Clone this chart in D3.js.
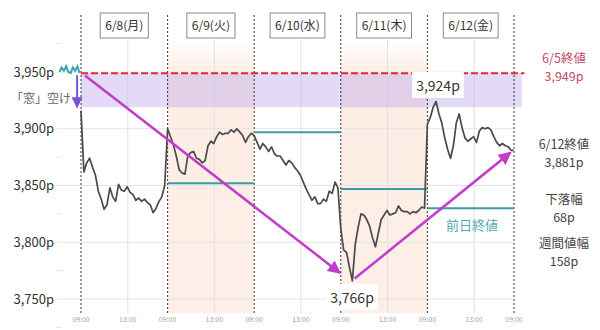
<!DOCTYPE html>
<html>
<head>
<meta charset="utf-8">
<script src="https://cdn.jsdelivr.net/npm/d3@7"></script>
<style>
  body { margin: 0; background: #fff; }
  svg { display: block; font-family: "Noto Sans CJK JP", "Noto Sans", sans-serif; }
</style>
</head>
<body>
<svg id="chart" width="600" height="330"></svg>
<script>
// days and labels
const dayLabels = ['6/8(月)', '6/9(火)', '6/10(水)', '6/11(木)', '6/12(金)'];
const timeTicks = [['09:00', 0], ['13:00', 0.54]];
const yTicks = [3750, 3800, 3850, 3900, 3950];

// intraday prices, evenly spaced through each session
const day1 = [3916, 3862, 3870, 3874, 3866, 3859, 3845, 3838, 3829, 3833, 3848, 3840, 3836, 3851, 3846,
              3845, 3849, 3844, 3842, 3837, 3839, 3836, 3838, 3835, 3833, 3826, 3830, 3836, 3840, 3850];
const day2 = [3900, 3893, 3886, 3876, 3864, 3861, 3860, 3876, 3879, 3880, 3874, 3873, 3870, 3872, 3885,
              3889, 3887, 3893, 3897, 3895, 3896, 3896, 3899, 3897, 3900, 3897, 3894, 3888, 3893, 3896];
const day3 = [3894, 3888, 3882, 3887, 3884, 3880, 3884, 3878, 3876, 3876, 3872, 3868, 3872, 3870, 3866,
              3863, 3859, 3853, 3847, 3842, 3837, 3840, 3834, 3834, 3838, 3836, 3845, 3843, 3853, 3848];
const day4 = [3812, 3793, 3791, 3778, 3766, 3798, 3813, 3825, 3824, 3820, 3814, 3804, 3796, 3808, 3820,
              3824, 3828, 3824, 3825, 3826, 3832, 3828, 3827, 3827, 3825, 3827, 3826, 3828, 3831, 3830];
const day5 = [3904, 3910, 3919, 3924, 3913, 3905, 3892, 3882, 3874, 3885, 3905, 3913, 3901, 3892, 3889,
              3891, 3893, 3888, 3898, 3901, 3900, 3901, 3899, 3893, 3888, 3885, 3887, 3885, 3884, 3881];
const preDay = [3950, 3954, 3951, 3955, 3950, 3949, 3954, 3951, 3955, 3949];
const prevCloses = [null, 3852, 3897, 3847, 3830];

const prevWeekClose = 3949;
const gapBottom = 3919;
const weekHigh = 3924, weekLow = 3766;

const svg = d3.select('#chart');
const x = d3.scaleLinear().domain([0, 5]).range([81, 514]);
const y = d3.scaleLinear().domain([3750, 3950]).range([299, 72]);
const plotTop = 40, plotBottom = 313;

const defs = svg.append('defs');
const grad = defs.append('linearGradient').attr('id', 'shade').attr('x1', 0).attr('x2', 0).attr('y1', 0).attr('y2', 1);
grad.append('stop').attr('offset', '0%').attr('stop-color', '#fdeee6').attr('stop-opacity', 0);
grad.append('stop').attr('offset', '12%').attr('stop-color', '#fdece3').attr('stop-opacity', 1);
grad.append('stop').attr('offset', '100%').attr('stop-color', '#fdefe8').attr('stop-opacity', 1);

function marker(id, color, size) {
  defs.append('marker').attr('id', id)
    .attr('viewBox', '0 0 10 10').attr('refX', 9).attr('refY', 5)
    .attr('markerWidth', size).attr('markerHeight', size).attr('markerUnits', 'userSpaceOnUse')
    .attr('orient', 'auto')
    .append('path').attr('d', 'M0,0 L10,5 L0,10 Z').attr('fill', color);
}
marker('magHead', '#c23ccc', 13);
marker('purHead', '#7a52d6', 11);

// shaded days (Tue, Thu)
svg.selectAll('rect.shade').data([1, 3]).enter().append('rect')
  .attr('x', d => x(d)).attr('y', plotTop)
  .attr('width', d => x(d + 1) - x(d)).attr('height', plotBottom - plotTop)
  .attr('fill', 'url(#shade)');

// grid
svg.append('g').selectAll('line').data(yTicks).enter().append('line')
  .attr('x1', 57).attr('x2', x(5)).attr('y1', d => y(d)).attr('y2', d => y(d))
  .attr('stroke', '#e4e4e4').attr('stroke-width', 1);
svg.append('g').selectAll('line').data(d3.range(3725, 3990, 50)).enter().append('line')
  .attr('x1', 56).attr('x2', 62).attr('y1', d => y(d)).attr('y2', d => y(d))
  .attr('stroke', '#e4e4e4');
svg.append('g').selectAll('line').data(d3.range(5)).enter().append('line')
  .attr('x1', d => x(d + 0.54)).attr('x2', d => x(d + 0.54))
  .attr('y1', plotTop).attr('y2', plotBottom)
  .attr('stroke', '#e2e2e2');

// opening gap band
svg.append('rect')
  .attr('x', x(0)).attr('y', y(prevWeekClose))
  .attr('width', x(5.09) - x(0)).attr('height', y(gapBottom) - y(prevWeekClose))
  .attr('fill', 'rgb(190,172,236)').attr('opacity', 0.45);

// day separators
svg.append('g').selectAll('line').data(d3.range(6)).enter().append('line')
  .attr('x1', d => x(d)).attr('x2', d => x(d))
  .attr('y1', 15).attr('y2', plotBottom)
  .attr('stroke', '#333').attr('stroke-width', 1).attr('stroke-dasharray', '2,2');

// previous close dashed line
svg.append('line')
  .attr('x1', x(0)).attr('x2', x(5.12))
  .attr('y1', y(prevWeekClose)).attr('y2', y(prevWeekClose))
  .attr('stroke', '#e02a2a').attr('stroke-width', 2).attr('stroke-dasharray', '7,3');

// prior-day close lines
const closeData = prevCloses.map((v, i) => ({d: i, v})).filter(o => o.v !== null);
svg.append('g').selectAll('line').data(closeData).enter().append('line')
  .attr('x1', o => x(o.d)).attr('x2', o => x(o.d + 1))
  .attr('y1', o => y(o.v)).attr('y2', o => y(o.v))
  .attr('stroke', '#3c9ca6').attr('stroke-width', 2);

// price line
const days = [day1, day2, day3, day4, day5];
const points = [];
days.forEach((arr, d) => arr.forEach((v, i) => points.push([d + i / arr.length, v])));
points.push([5 - 0.005, day5[day5.length - 1]]);
const line = d3.line().x(p => x(p[0])).y(p => y(p[1]));
svg.append('path').datum(points)
  .attr('fill', 'none').attr('stroke', '#4a4a4a').attr('stroke-width', 1.7)
  .attr('stroke-linejoin', 'round').attr('d', line);

const prePts = preDay.map((v, i) => [-0.25 + i * 0.026, v]);
svg.append('path').datum(prePts)
  .attr('fill', 'none').attr('stroke', '#3aa5b0').attr('stroke-width', 2).attr('d', line);

// arrows
const arrows = [
  [[0.046, 3947], [2.99, 3773]],
  [[3.16, 3768], [4.96, 3879]]
];
svg.append('g').selectAll('line').data(arrows).enter().append('line')
  .attr('x1', a => x(a[0][0])).attr('y1', a => y(a[0][1]))
  .attr('x2', a => x(a[1][0])).attr('y2', a => y(a[1][1]))
  .attr('stroke', '#c23ccc').attr('stroke-width', 2.5)
  .attr('marker-end', 'url(#magHead)');

svg.append('line')
  .attr('x1', x(-0.045)).attr('x2', x(-0.045))
  .attr('y1', y(prevWeekClose) + 2).attr('y2', y(gapBottom))
  .attr('stroke', '#7a52d6').attr('stroke-width', 2)
  .attr('marker-end', 'url(#purHead)');

// y axis labels
svg.append('g').selectAll('text').data(yTicks).enter().append('text')
  .attr('x', 54).attr('y', d => y(d)).attr('dy', '0.35em')
  .attr('text-anchor', 'end').attr('font-size', 13).attr('fill', '#333')
  .text(d => d3.format(',')(d) + 'p');

// x axis labels
const xt = [];
d3.range(6).forEach(d => timeTicks.forEach(t => { if (d + t[1] <= 5) xt.push([t[0], d + t[1]]); }));
svg.append('g').selectAll('text').data(xt).enter().append('text')
  .attr('x', t => x(t[1])).attr('y', 322)
  .attr('text-anchor', 'middle').attr('font-size', 7).attr('fill', '#a0a0a0')
  .text(t => t[0]);

// day label boxes
const dayG = svg.append('g').selectAll('g').data(dayLabels).enter().append('g');
dayG.append('text')
  .attr('x', (d, i) => x(i + 0.5)).attr('y', 26).attr('dy', '0.35em')
  .attr('text-anchor', 'middle').attr('font-size', 12).attr('fill', '#333')
  .text(d => d);
dayG.each(function() {
  const g = d3.select(this);
  const b = g.select('text').node().getBBox();
  g.insert('rect', 'text')
    .attr('x', b.x - 5).attr('y', 13).attr('width', b.width + 10).attr('height', 25)
    .attr('fill', '#fff').attr('stroke', '#8a8a8a');
});

// value callouts
function callout(txt, cx, cy) {
  const g = svg.append('g');
  const t = g.append('text').attr('x', cx).attr('y', cy).attr('dy', '0.35em')
    .attr('text-anchor', 'middle').attr('font-size', 14).attr('fill', '#333').text(txt);
  const b = t.node().getBBox();
  g.insert('rect', 'text').attr('x', b.x - 4).attr('y', b.y - 3)
    .attr('width', b.width + 8).attr('height', b.height + 6).attr('fill', '#fff');
}
callout(d3.format(',')(weekHigh) + 'p', 438, 86);
callout(d3.format(',')(weekLow) + 'p', 352, 298);

svg.append('text').attr('x', 472).attr('y', 225).attr('dy', '0.35em')
  .attr('text-anchor', 'middle').attr('font-size', 13).attr('fill', '#55a9b2').text('前日終値');
svg.append('text').attr('x', 41).attr('y', 99).attr('dy', '0.35em')
  .attr('text-anchor', 'middle').attr('font-size', 12).attr('fill', '#666').text('「窓」空け');

// right-side notes
const notes = [
  ['6/5終値', 59, '#c24a66'], ['3,949p', 77, '#c24a66'],
  ['6/12終値', 145, '#444'], ['3,881p', 163, '#444'],
  ['下落幅', 200, '#444'], ['68p', 218, '#444'],
  ['週間値幅', 244, '#444'], ['158p', 262, '#444']
];
svg.append('g').selectAll('text').data(notes).enter().append('text')
  .attr('x', 564).attr('y', n => n[1]).attr('dy', '0.35em')
  .attr('text-anchor', 'middle').attr('font-size', 12.5).attr('fill', n => n[2])
  .text(n => n[0]);
</script>
</body>
</html>
